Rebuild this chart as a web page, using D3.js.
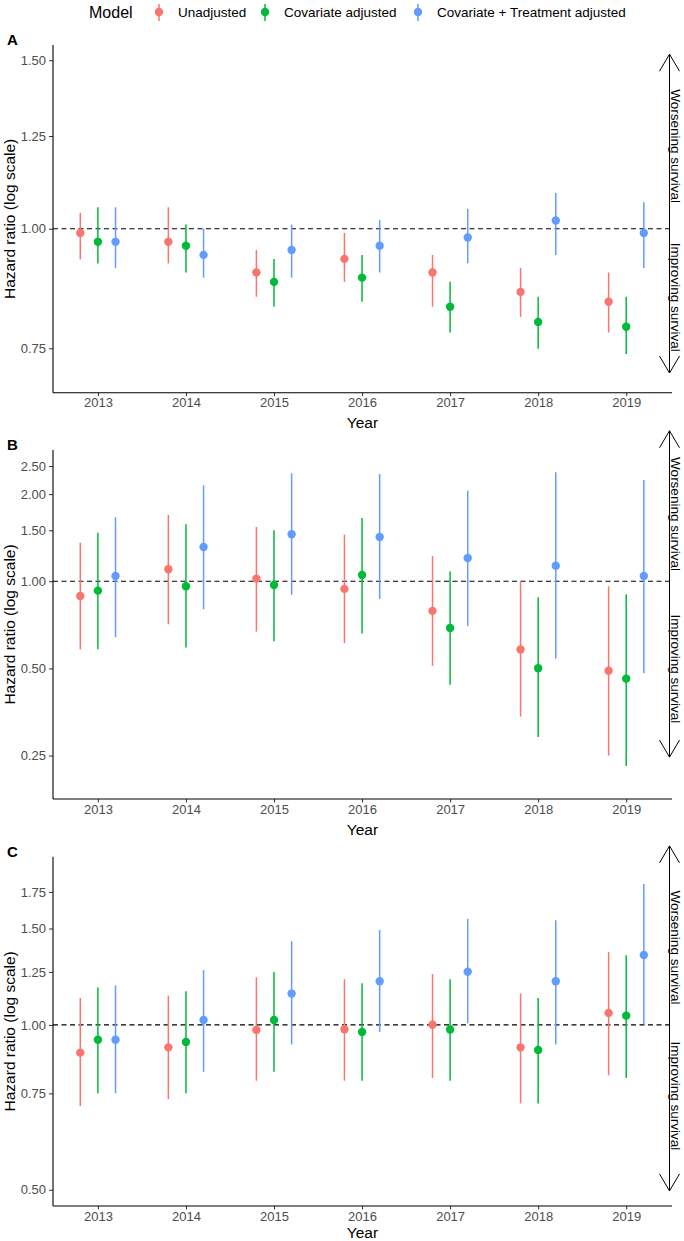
<!DOCTYPE html>
<html><head><meta charset="utf-8">
<script src="https://cdn.jsdelivr.net/npm/d3@7"></script>
<style>
body{margin:0;background:#fff;}
text{font-family:"Liberation Sans",Arial,Helvetica,sans-serif;}
</style>
</head><body>
<svg id="chart" width="684" height="1241"></svg>
<script>
// ---------- DATA ----------
const years = ["2013","2014","2015","2016","2017","2018","2019"];
const models = ["Unadjusted","Covariate adjusted","Covariate + Treatment adjusted"];
const modelColors = ["#F8766D","#00BA38","#619CFF"];

// each entry: [estimate, lower CI, upper CI]
const panelA_unadjusted = [[0.990,0.929,1.039],[0.969,0.920,1.053],[0.900,0.849,0.950],[0.930,0.880,0.990],[0.900,0.829,0.939],[0.859,0.809,0.910],[0.839,0.779,0.900]];
const panelA_covariate  = [[0.969,0.920,1.053],[0.960,0.900,1.010],[0.880,0.829,0.930],[0.889,0.839,0.939],[0.829,0.779,0.880],[0.799,0.749,0.849],[0.790,0.740,0.849]];
const panelA_treatment  = [[0.969,0.910,1.053],[0.939,0.889,1.000],[0.950,0.889,1.010],[0.960,0.900,1.021],[0.979,0.920,1.049],[1.020,0.939,1.090],[0.990,0.910,1.066]];

const panelB_unadjusted = [[0.890,0.582,1.359],[1.100,0.710,1.694],[1.021,0.670,1.540],[0.941,0.611,1.449],[0.790,0.510,1.223],[0.581,0.341,0.997],[0.491,0.250,0.961]];
const panelB_covariate  = [[0.928,0.582,1.472],[0.961,0.590,1.573],[0.971,0.620,1.500],[1.051,0.660,1.654],[0.690,0.439,1.080],[0.501,0.290,0.880],[0.461,0.230,0.902]];
const panelB_treatment  = [[1.043,0.641,1.663],[1.313,0.800,2.144],[1.453,0.899,2.359],[1.422,0.869,2.347],[1.203,0.701,2.055],[1.132,0.541,2.378],[1.043,0.481,2.237]];

const panelC_unadjusted = [[0.890,0.711,1.120],[0.910,0.732,1.131],[0.979,0.791,1.222],[0.982,0.791,1.212],[1.001,0.800,1.239],[0.910,0.719,1.141],[1.052,0.809,1.359]];
const panelC_covariate  = [[0.940,0.750,1.170],[0.931,0.750,1.152],[1.021,0.821,1.250],[0.971,0.791,1.192],[0.981,0.791,1.212],[0.900,0.719,1.120],[1.040,0.800,1.340]];
const panelC_treatment  = [[0.940,0.750,1.181],[1.021,0.821,1.260],[1.141,0.921,1.422],[1.202,0.971,1.491],[1.251,1.007,1.562],[1.202,0.921,1.553],[1.342,1.004,1.809]];

const ticksA = [0.75, 1.00, 1.25, 1.50];
const ticksB = [0.25, 0.50, 1.00, 1.50, 2.00, 2.50];
const ticksC = [0.50, 0.75, 1.00, 1.25, 1.50, 1.75];

const panelLabels = ["A","B","C"];
const referenceValue = 1.0;
const upText = "Worsening survival";
const downText = "Improving survival";
const yTitle = "Hazard ratio (log scale)";
const xTitle = "Year";
const legendTitle = "Model";

// ---------- LAYOUT ----------
const svg = d3.select("#chart");
const left = 53, right = 672;
const dodge = 0.2;
const x = d3.scaleLinear().domain([-0.51, 6.52]).range([left, right]);

const panels = [
  {label:panelLabels[0], series:[panelA_unadjusted,panelA_covariate,panelA_treatment], ticks:ticksA,
   top:45, bottom:392.7, domain:[0.674,1.556], arrow:[0.7067,1.522], txt:[1.22,0.848]},
  {label:panelLabels[1], series:[panelB_unadjusted,panelB_covariate,panelB_treatment], ticks:ticksB,
   top:450, bottom:799, domain:[0.177,2.84], arrow:[0.247,3.31], txt:[1.707,0.498]},
  {label:panelLabels[2], series:[panelC_unadjusted,panelC_covariate,panelC_treatment], ticks:ticksC,
   top:856.7, bottom:1206, domain:[0.467,2.029], arrow:[0.4976,2.123], txt:[1.385,0.742]}
];

const tickColor = "#4D4D4D";
const tickFont = "13px";

panels.forEach(p => {
  const y = d3.scaleLog().domain(p.domain).range([p.bottom, p.top]);
  const g = svg.append("g");

  // reference dashed line
  g.append("line")
    .attr("x1", left).attr("x2", right)
    .attr("y1", y(referenceValue)).attr("y2", y(referenceValue))
    .attr("stroke", "#000").attr("stroke-width", 1.2)
    .attr("stroke-dasharray", "5,3.5");

  // point ranges
  p.series.forEach((s, mi) => {
    const off = (mi - 1) * dodge;
    const sg = g.append("g");
    sg.selectAll("line").data(s).enter().append("line")
      .attr("x1", (d,i) => x(i + off)).attr("x2", (d,i) => x(i + off))
      .attr("y1", d => y(d[1])).attr("y2", d => y(d[2]))
      .attr("stroke", modelColors[mi]).attr("stroke-width", 1.5);
    sg.selectAll("circle").data(s).enter().append("circle")
      .attr("cx", (d,i) => x(i + off)).attr("cy", d => y(d[0]))
      .attr("r", 4.2).attr("fill", modelColors[mi]);
  });

  // y axis
  const yAxis = d3.axisLeft(y).tickValues(p.ticks).tickFormat(d3.format(".2f"))
    .tickSize(4).tickPadding(3).tickSizeOuter(0);
  const ya = g.append("g").attr("transform", `translate(${left},0)`).call(yAxis);
  ya.select(".domain").remove();
  ya.append("line").attr("x1",0).attr("x2",0).attr("y1",p.top).attr("y2",p.bottom)
    .attr("stroke","#000").attr("stroke-width",1.1);
  ya.selectAll(".tick line").attr("stroke","#333").attr("stroke-width",1);
  ya.selectAll(".tick text").attr("fill",tickColor).style("font-size",tickFont)
    .style("font-family",'"Liberation Sans",Arial,sans-serif');

  // x axis
  const xAxis = d3.axisBottom(x).tickValues(d3.range(years.length))
    .tickFormat(i => years[i]).tickSize(3.5).tickPadding(2).tickSizeOuter(0);
  const xa = g.append("g").attr("transform", `translate(0,${p.bottom})`).call(xAxis);
  xa.select(".domain").remove();
  xa.append("line").attr("x1",left).attr("x2",right).attr("y1",0).attr("y2",0)
    .attr("stroke","#000").attr("stroke-width",1.1);
  xa.selectAll(".tick line").attr("stroke","#333").attr("stroke-width",1);
  xa.selectAll(".tick text").attr("fill",tickColor).style("font-size",tickFont)
    .style("font-family",'"Liberation Sans",Arial,sans-serif');

  // axis titles
  g.append("text").attr("x", (left+right)/2).attr("y", Math.min(p.bottom + 35.5, 1237.5))
    .attr("text-anchor","middle").style("font-size","15.5px").attr("fill","#000").text(xTitle);
  g.append("text")
    .attr("transform", `translate(15,${(p.top+p.bottom)/2}) rotate(-90)`)
    .attr("text-anchor","middle").style("font-size","15.5px").attr("fill","#000").text(yTitle);

  // panel label
  g.append("text").attr("x", 7).attr("y", p.top).style("font-size","15px")
    .style("font-weight","bold").attr("fill","#000").text(p.label);

  // double arrow
  const ax = 669.5;
  const yTop = y(p.arrow[1]), yBot = y(p.arrow[0]);
  const ag = g.append("g").attr("stroke","#000").attr("stroke-width",1).attr("fill","none");
  ag.append("line").attr("x1",ax).attr("x2",ax).attr("y1",yTop).attr("y2",yBot);
  ag.append("path").attr("d", `M${ax-10},${yTop+17}L${ax},${yTop}L${ax+10},${yTop+17}`);
  ag.append("path").attr("d", `M${ax-10},${yBot-17}L${ax},${yBot}L${ax+10},${yBot-17}`);

  // direction labels
  g.append("text").attr("transform", `translate(671,${y(p.txt[0])}) rotate(90)`)
    .attr("text-anchor","middle").style("font-size","13.5px").attr("fill","#000").text(upText);
  g.append("text").attr("transform", `translate(671,${y(p.txt[1])}) rotate(90)`)
    .attr("text-anchor","middle").style("font-size","13.5px").attr("fill","#000").text(downText);
});

// ---------- LEGEND ----------
const lg = svg.append("g");
const ly = 12;
lg.append("text").attr("x", 89).attr("y", ly + 5.5).style("font-size","16px").attr("fill","#000").text(legendTitle);
const keyX = [159, 265, 418];
models.forEach((m, i) => {
  lg.append("line").attr("x1", keyX[i]).attr("x2", keyX[i]).attr("y1", ly - 8).attr("y2", ly + 9)
    .attr("stroke", modelColors[i]).attr("stroke-width", 1.5);
  lg.append("circle").attr("cx", keyX[i]).attr("cy", ly).attr("r", 4.2).attr("fill", modelColors[i]);
  lg.append("text").attr("x", keyX[i] + 19).attr("y", ly + 5).style("font-size","13.5px")
    .attr("fill","#000").text(m);
});
</script>
</body></html>
